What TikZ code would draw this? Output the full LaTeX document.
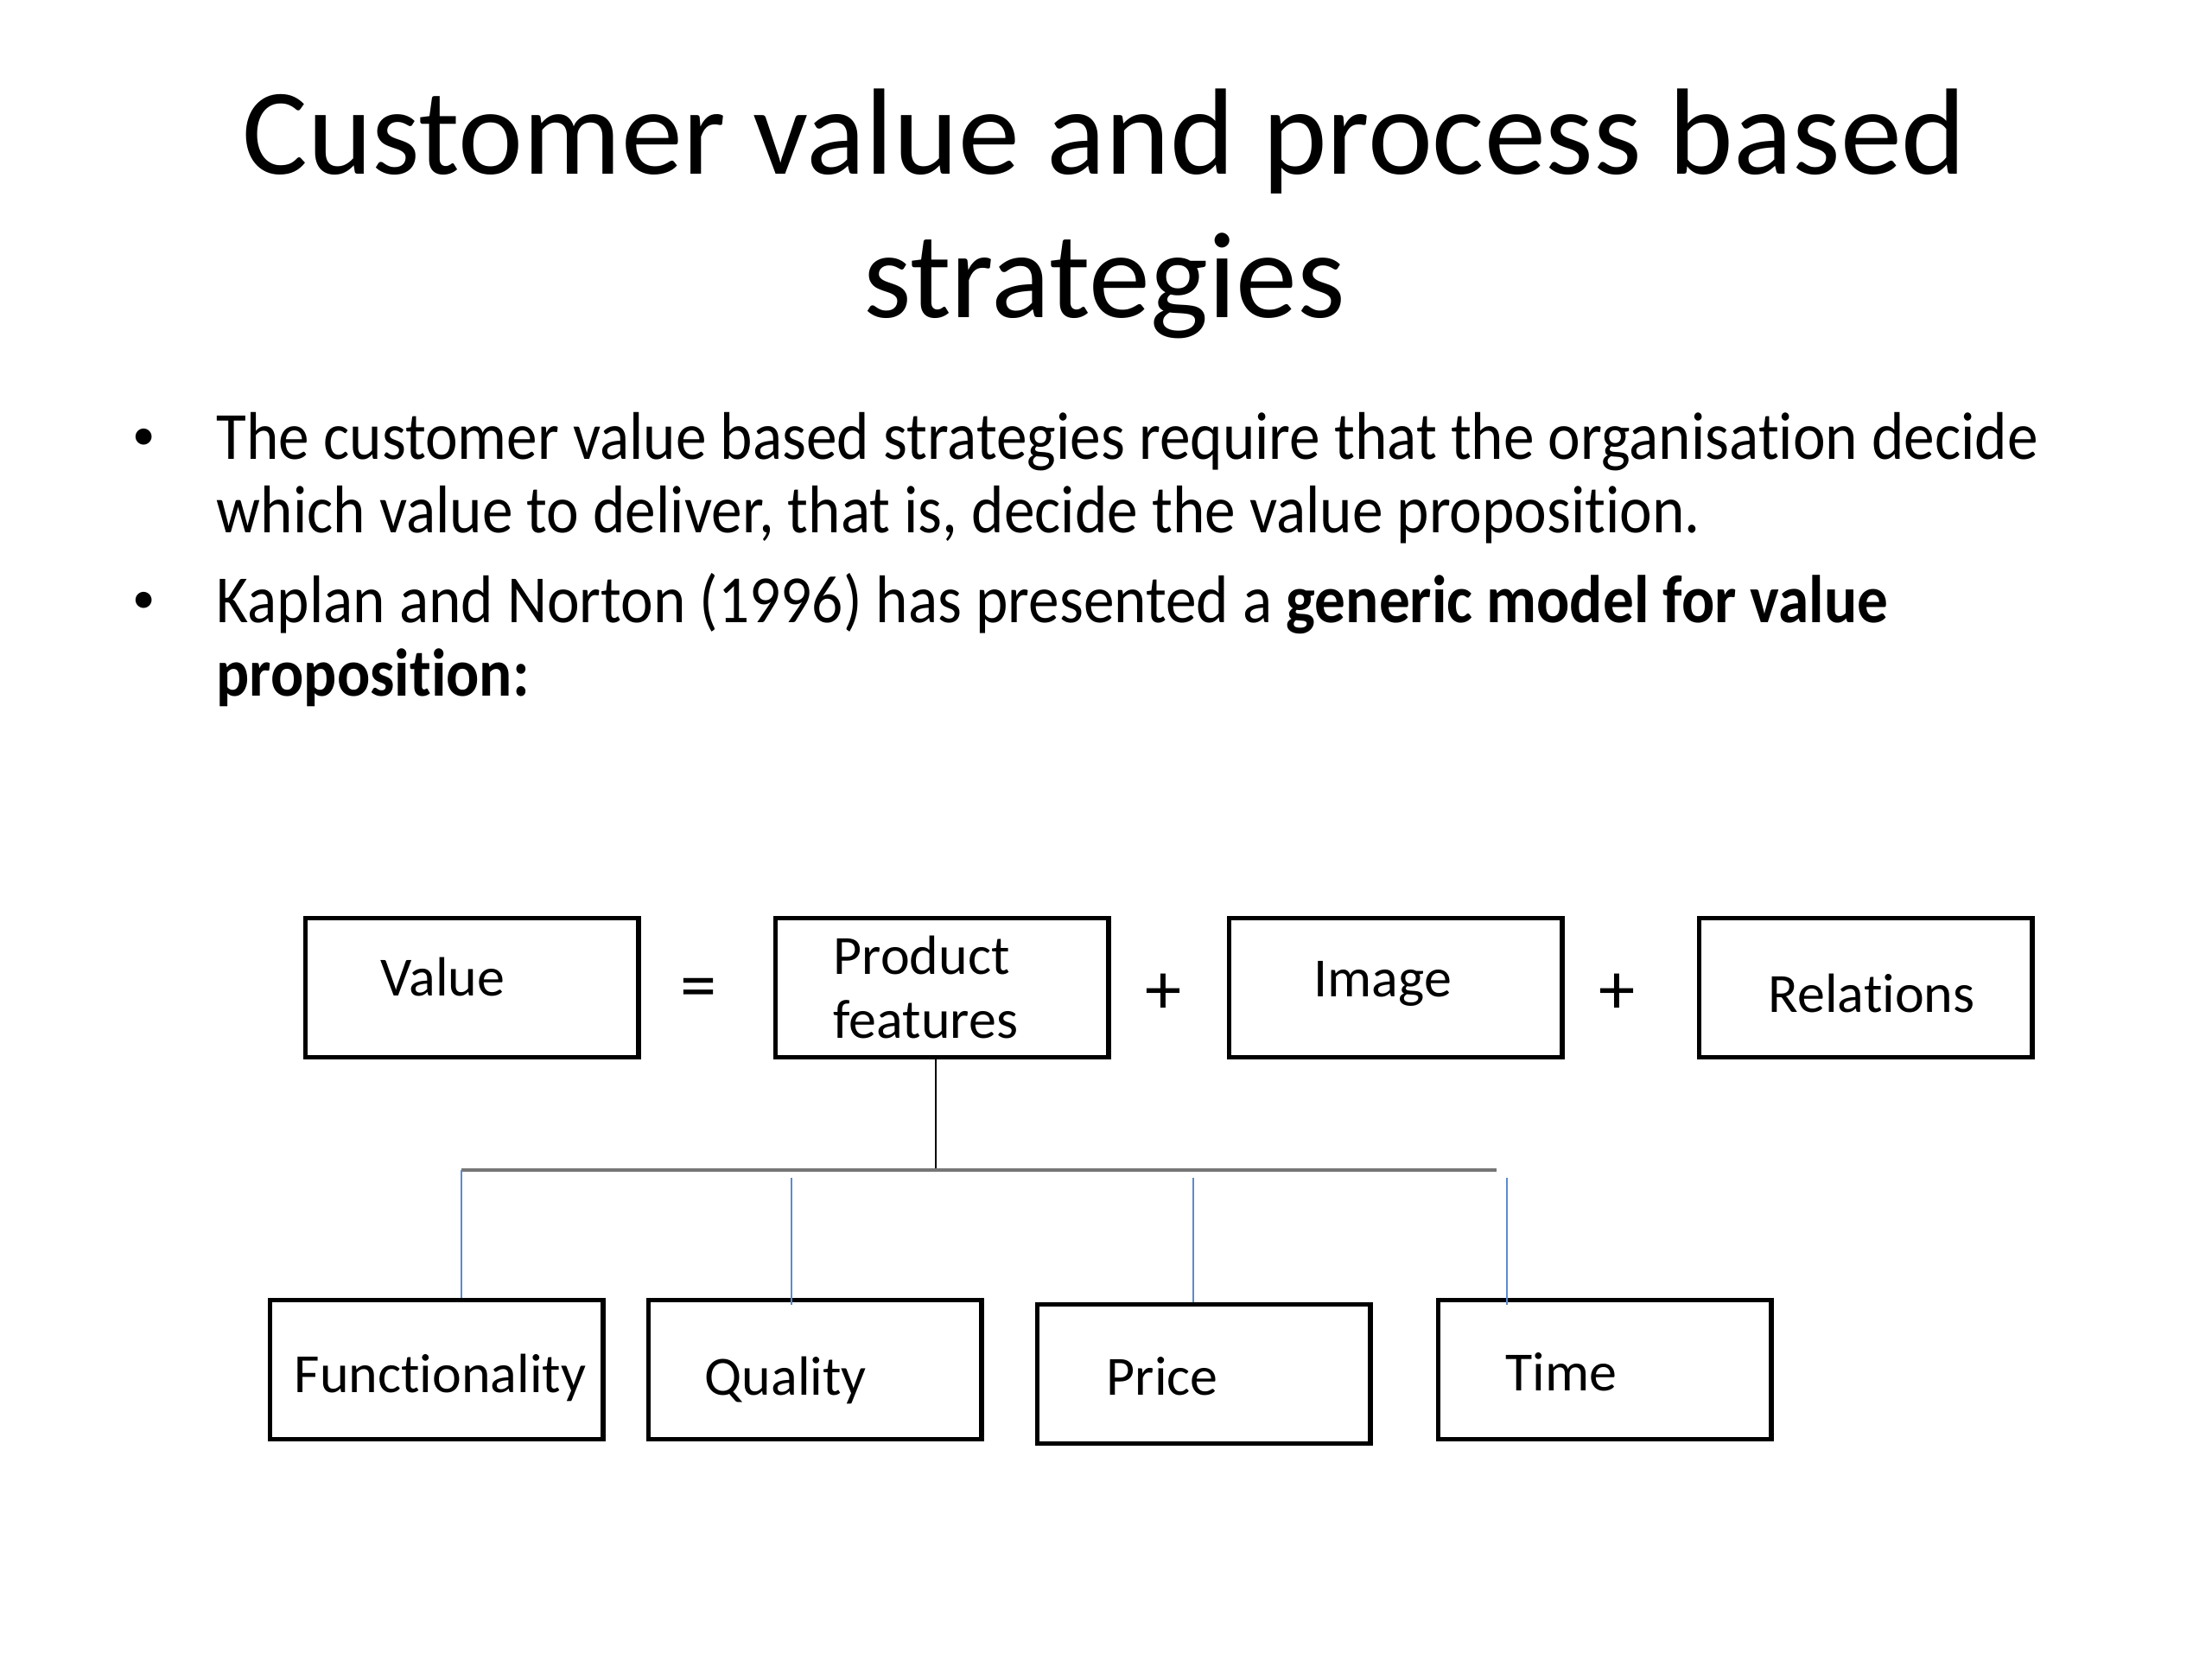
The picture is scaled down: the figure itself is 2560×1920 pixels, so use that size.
\documentclass[tikz,border=0pt]{standalone}
\usepackage{fontspec}
\setmainfont{Carlito}[Ligatures={NoCommon,NoContextual}]
\newfontfamily\bulletfont{Carlito}[FakeStretch=0.913,Ligatures={NoCommon,NoContextual}]
\definecolor{linkblue}{HTML}{5B8BD0}
\definecolor{bargray}{HTML}{767676}
\begin{document}
\begin{tikzpicture}[x=0.01cm,y=-0.01cm,
  box/.style={draw=black,line width=1.5pt,minimum width=3.85cm,minimum height=1.61cm,inner sep=0pt,anchor=north west},
  txt/.style={inner sep=0pt,anchor=base west,font=\fontsize{18.2}{22}\selectfont},
  optxt/.style={inner sep=0pt,anchor=center,font=\fontsize{24}{28}\selectfont},
  btxt/.style={inner sep=0pt,anchor=base west,font=\bulletfont\fontsize{22.2}{27}\selectfont},
  ttl/.style={inner sep=0pt,anchor=base,font=\fontsize{40.4}{48}\selectfont}]
\useasboundingbox (0,0) rectangle (2560,1920);
% title
\node[ttl] (t1) at (1278,201) {Customer value and process based};
\node[ttl] (t2) at (1278,367) {strategies};
% bullets
\node[btxt] (b1a) at (250,531) {The customer value based strategies require that the organisation decide};
\node[btxt] (b1b) at (250,616) {which value to deliver, that is, decide the value proposition.};
\node[btxt] (b2a) at (250,720) {Kaplan and Norton (1996) has presented a \textbf{generic model for value}};
\node[btxt] (b2b) at (250,805) {\textbf{proposition:}};
\node[inner sep=0pt,anchor=base,font=\fontsize{15}{18}\selectfont] (d1) at (167,520) {•};
\node[inner sep=0pt,anchor=base,font=\fontsize{15}{18}\selectfont] (d2) at (167,709) {•};
% top row boxes
\node[box] (val) at (351,1060) {};
\node[box] (pf) at (895,1060) {};
\node[box] (img) at (1420,1060) {};
\node[box] (rel) at (1964,1060) {};
\node[txt] (valt) at (440,1152) {Value};
\node[txt] (pft1) at (964,1127) {Product};
\node[txt] (pft2) at (964,1201) {features};
\node[txt] (imgt) at (1520,1153) {Image};
\node[txt] (relt) at (2046,1171) {Relations};
\node[optxt] (eq) at (809,1150) {=};
\node[optxt] (p1) at (1347,1150) {+};
\node[optxt] (p2) at (1871,1150) {+};
% bottom row boxes
\node[box] (fun) at (310,1502) {};
\node[box] (qua) at (748,1502) {};
\node[box] (pri) at (1198,1507) {};
\node[box] (tim) at (1662,1502) {};
\node[txt] (funt) at (340,1611) {Functionality};
\node[txt] (quat) at (815,1614) {Quality};
\node[txt] (prit) at (1280,1614) {Price};
\node[txt] (timt) at (1742,1609) {Time};
% connectors
\coordinate (hl) at (534,1354);
\coordinate (hr) at (1732,1354);
\coordinate (c2) at (916,1363);
\coordinate (c3) at (1381,1363);
\coordinate (c4) at (1744,1363);
\draw[line width=0.5pt,black] (pf.south -| 1083,0) -- (hl -| 1083,0);
\draw[line width=1pt,bargray] (hl) -- (hr);
\draw[line width=0.6pt,linkblue] (hl) -- (hl |- fun.north);
\draw[line width=0.6pt,linkblue] (c2) -- ([yshift=-0.08cm]c2 |- qua.north);
\draw[line width=0.6pt,linkblue] (c3) -- (c3 |- pri.north);
\draw[line width=0.6pt,linkblue] (c4) -- ([yshift=-0.08cm]c4 |- tim.north);
\end{tikzpicture}
\end{document}
